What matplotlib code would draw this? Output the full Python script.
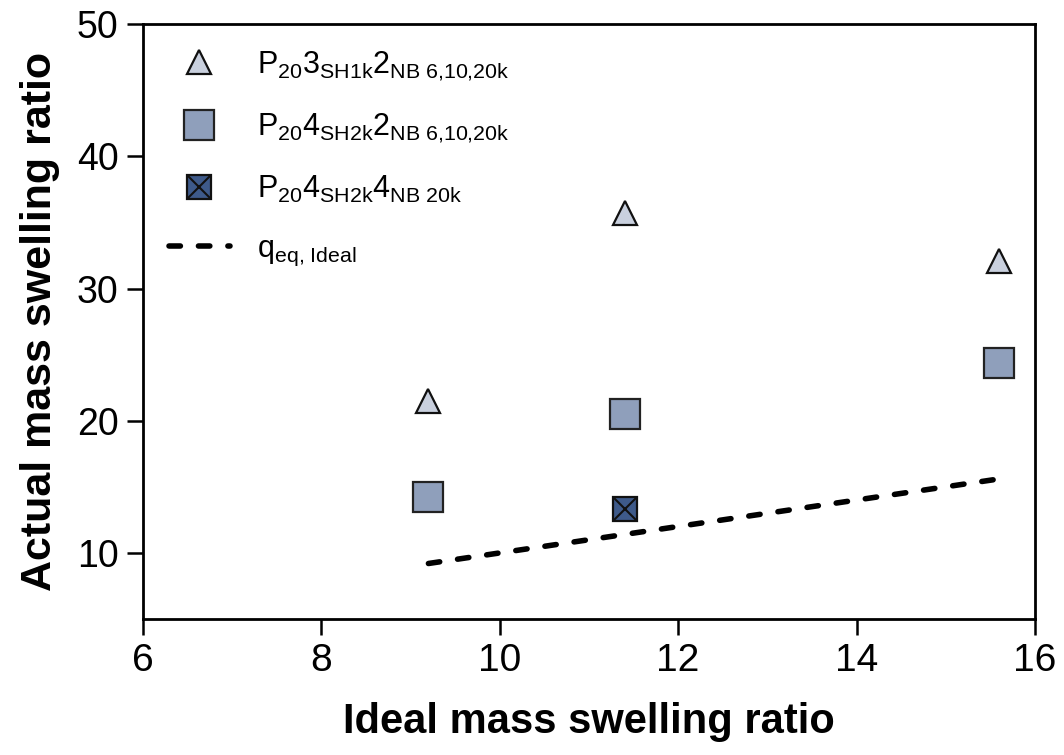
import matplotlib
matplotlib.use("Agg")
import matplotlib.pyplot as plt

plt.rcParams['font.family'] = ['Liberation Sans', 'DejaVu Sans']
plt.rcParams['mathtext.fontset'] = 'custom'
plt.rcParams['mathtext.rm'] = 'Liberation Sans'
plt.rcParams['mathtext.it'] = 'Liberation Sans'
plt.rcParams['mathtext.bf'] = 'Liberation Sans:bold'

# data
tri_x = [9.2, 11.4, 15.6]
tri_y = [21.5, 35.7, 32.1]
sq_x = [9.2, 11.4, 15.6]
sq_y = [14.2, 20.5, 24.4]
xsq_x = [11.4]
xsq_y = [13.3]
ideal_x = [9.2, 11.4, 15.6]
ideal_y = [9.2, 11.4, 15.6]

x_ticks = [6, 8, 10, 12, 14, 16]
y_ticks = [10, 20, 30, 40, 50]

labels = [
    r'P$_{20}$3$_{\mathrm{SH1k}}$2$_{\mathrm{NB\ 6{,}10{,}20k}}$',
    r'P$_{20}$4$_{\mathrm{SH2k}}$2$_{\mathrm{NB\ 6{,}10{,}20k}}$',
    r'P$_{20}$4$_{\mathrm{SH2k}}$4$_{\mathrm{NB\ 20k}}$',
    r'q$_{\mathrm{eq{,}\ Ideal}}$',
]

fig = plt.figure(figsize=(10.64, 7.55), dpi=100)
ax = fig.add_axes([0.1344, 0.1801, 0.8383, 0.788])

tri, = ax.plot(tri_x, tri_y, linestyle='none', marker='^', markersize=17,
               markerfacecolor='#c9d0de', markeredgecolor='#111111', markeredgewidth=1.6)
sq, = ax.plot(sq_x, sq_y, linestyle='none', marker='s', markersize=21,
              markerfacecolor='#8f9fbb', markeredgecolor='#222222', markeredgewidth=1.6)
xsq, = ax.plot(xsq_x, xsq_y, linestyle='none', marker='s', markersize=17,
               markerfacecolor='#3e5a8a', markeredgecolor='#111111', markeredgewidth=1.6)
xx, = ax.plot(xsq_x, xsq_y, linestyle='none', marker='x', markersize=17,
              markeredgecolor='#111111', markeredgewidth=1.5)
line, = ax.plot(ideal_x, ideal_y, linestyle=(0, (2.05, 3.25)), color='black',
                linewidth=4, dash_capstyle='round')

ax.set_xlim(6, 16)
ax.set_ylim(5, 50)
ax.set_xticks(x_ticks)
ax.set_yticks(y_ticks)

for s in ax.spines.values():
    s.set_linewidth(2)
ax.tick_params(direction='out', length=11.5, width=1.8, pad=5)
ax.tick_params(axis='y', labelsize=27, pad=6)
ax.tick_params(axis='x', labelsize=28, pad=6)

ax.set_xlabel('Ideal mass swelling ratio', fontsize=30, fontweight='bold', labelpad=16)
ax.set_ylabel('Actual mass swelling ratio', fontsize=31, fontweight='bold', labelpad=12)

ax.legend([tri, sq, (xsq, xx), line], labels, loc='upper left',
          frameon=False, fontsize=22, handlelength=2.0, handletextpad=0.9,
          labelspacing=0.95, borderaxespad=0.5, bbox_to_anchor=(-0.002, 1.004))

fig.savefig('out.png', dpi=100)
